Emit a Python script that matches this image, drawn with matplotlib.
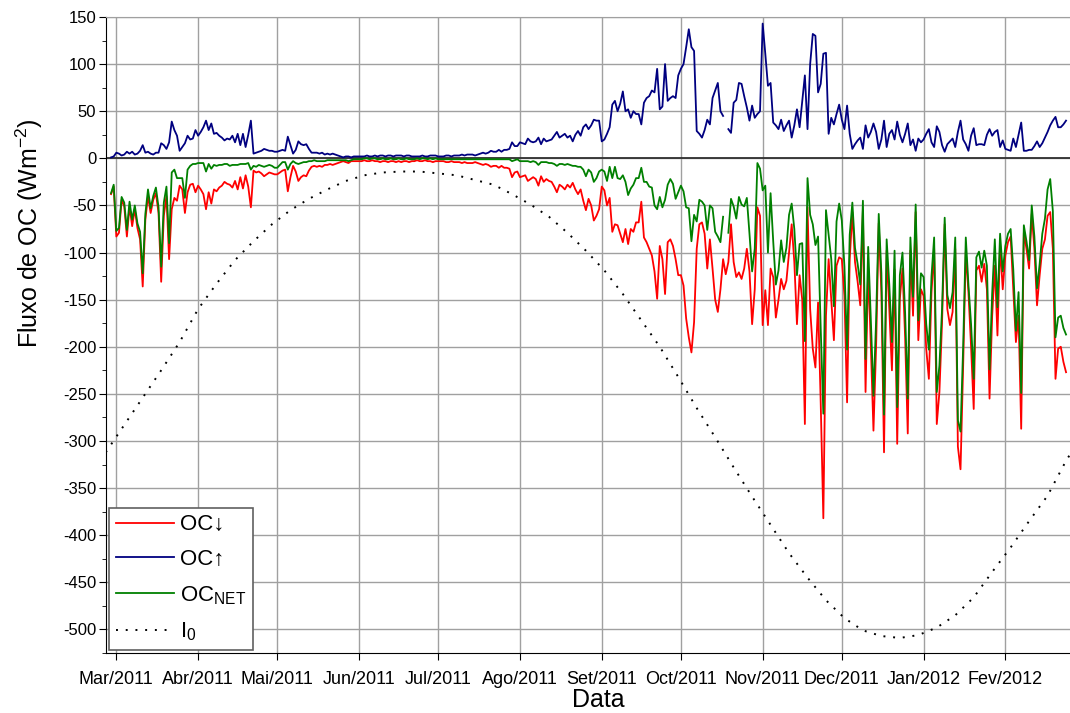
import numpy as np
import pandas as pd
import matplotlib
matplotlib.use("Agg")
import matplotlib.pyplot as plt
from matplotlib.ticker import MultipleLocator

plt.rcParams.update({
    'font.family': ['Liberation Sans', 'DejaVu Sans'],
    'mathtext.fontset': 'custom',
    'mathtext.rm': 'Liberation Sans',
    'mathtext.it': 'Liberation Sans:italic',
    'mathtext.bf': 'Liberation Sans:bold',
    'axes.unicode_minus': False,
})

# daily shortwave fluxes (W m-2), 27 Feb 2011 .. 24 Feb 2012
oc_down = [
    -38, -30,                                                            # Feb
    -83, -79, -44, -51, -83, -51, -72, -54, -74, -86, -136, -65, -40, -58, -44, -37,
    -58, -131, -61, -40, -107, -54, -42, -45, -29, -33, -58, -36, -28, -27, -36,  # Mar
    -29, -33, -38, -54, -36, -48, -33, -35, -31, -29, -25, -27, -28, -31, -24,
    -33, -20, -32, -18, -30, -52, -13, -15, -14, -16, -19, -17, -15, -16, -17,    # Apr
    -17, -15, -13, -12, -35, -20, -8, -14, -24, -20, -18, -19, -13, -9, -8, -9,
    -8, -9, -7, -7, -6, -7, -6, -5, -4, -3, -4, -5, -3, -3, -3,                   # May
    -3, -3, -2, -3, -3, -2, -3, -3, -4, -3, -3, -4, -3, -3, -4,
    -3, -4, -3, -3, -4, -3, -3, -2, -3, -3, -2, -3, -3, -4, -3,                   # Jun
    -3, -3, -3, -4, -4, -3, -4, -4, -4, -5, -4, -5, -5, -5, -4, -5,
    -6, -7, -6, -7, -9, -8, -8, -10, -8, -10, -10, -11, -20, -15, -14,            # Jul
    -20, -19, -18, -24, -22, -20, -22, -29, -19, -25, -22, -24, -25, -30, -36, -28,
    -30, -33, -28, -31, -26, -33, -38, -33, -45, -55, -43, -50, -66, -61, -54,    # Aug
    -30, -34, -50, -42, -78, -70, -71, -80, -89, -75, -91, -75, -78, -68, -68,
    -46, -84, -89, -96, -103, -120, -149, -93, -107, -144, -89, -86, -93, -107, -124,  # Set
    -124, -135, -170, -190, -206, -174, -96, -70, -68, -80, -117, -86, -117, -150, -163, -139,
    -107, -123, -110, -70, -110, -126, -121, -128, -117, -96, -120, -176, -139, -52, -61,  # Oct
    -177, -140, -177, -117, -126, -169, -150, -128, -139, -130, -100, -70, -110, -176, -124,
    -150, -282, -52, -160, -202, -222, -153, -259, -382, -167, -107, -150, -193, -114, -105,  # Nov
    -107, -146, -259, -107, -57, -110, -131, -156, -55, -248, -116, -199, -289, -200, -69, -142,
    -312, -98, -160, -225, -118, -303, -149, -117, -190, -292, -98, -167, -57, -193, -139,  # Dec
    -146, -202, -234, -142, -96, -282, -248, -174, -70, -160, -177, -163, -96, -306, -330, -220,
    -99, -142, -200, -266, -119, -114, -131, -112, -139, -255, -167, -114, -188, -92, -139,  # Jan
    -103, -89, -83, -139, -195, -167, -287, -79, -96, -117, -59, -96,
    -156, -124, -96, -86, -61, -57, -96, -234, -202, -200, -216, -227,            # Feb
]

oc_up = [
    1, 2,
    6, 5, 3, 4, 7, 5, 7, 4, 5, 8, 14, 6, 7, 5, 4, 6,
    6, 16, 14, 10, 17, 39, 30, 24, 8, 12, 16, 24, 20, 21, 30,
    24, 28, 33, 40, 30, 37, 26, 27, 24, 22, 19, 21, 20, 24, 17,
    26, 14, 26, 12, 25, 40, 5, 6, 7, 8, 10, 9, 8, 8, 7,
    7, 8, 9, 8, 23, 14, 5, 9, 18, 15, 14, 15, 10, 6, 6, 6,
    5, 6, 4, 5, 4, 5, 4, 3, 2, 1, 2, 2, 1, 2, 2,
    2, 2, 2, 3, 2, 2, 3, 2, 3, 3, 2, 3, 3, 2, 3,
    3, 3, 2, 3, 3, 2, 2, 2, 2, 3, 2, 2, 3, 3, 3,
    2, 2, 2, 3, 3, 2, 3, 3, 3, 4, 3, 4, 4, 4, 3, 4,
    5, 6, 5, 6, 8, 7, 7, 9, 7, 9, 9, 10, 17, 13, 13,
    17, 16, 15, 21, 18, 17, 18, 22, 15, 21, 18, 19, 20, 24, 28, 22,
    24, 26, 22, 24, 18, 25, 29, 24, 33, 36, 31, 35, 41, 40, 40,
    18, 20, 26, 33, 57, 61, 50, 58, 71, 50, 52, 43, 50, 47, 47,
    36, 59, 64, 66, 72, 70, 95, 52, 55, 100, 61, 64, 66, 64, 88,
    95, 100, 118, 137, 118, 114, 29, 26, 22, 30, 41, 36, 64, 72, 80, 50,
    45, np.nan, 31, 27, 59, 62, 80, 79, 66, 54, 40, 56, 43, 47, 50,
    143, 111, 77, 80, 38, 35, 31, 41, 29, 35, 40, 22, 35, 52, 33,
    60, 88, 31, 100, 132, 130, 70, 79, 111, 112, 26, 43, 36, 47, 57,
    41, 31, 56, 26, 10, 15, 19, 22, 10, 35, 22, 28, 37, 28, 10, 20,
    40, 12, 26, 30, 20, 39, 25, 17, 26, 37, 14, 20, 8, 21, 17,
    20, 26, 31, 17, 12, 34, 28, 14, 7, 15, 18, 21, 12, 28, 40, 20,
    15, 8, 24, 32, 14, 15, 15, 14, 25, 31, 24, 28, 30, 12, 19,
    10, 9, 8, 21, 12, 25, 38, 8, 8, 9, 9, 13,
    18, 12, 16, 22, 28, 35, 40, 44, 33, 33, 36, 40,
]

# top-of-atmosphere irradiance, weekly from 25 Feb 2011
i0_vals = [
    -312, -283, -254, -225, -195, -160, -133, -108, -88, -70,
    -55, -43, -33, -24, -18, -15, -14, -14, -16, -18,
    -23, -28, -38, -49, -62, -79, -98, -119, -144, -172,
    -200, -232, -265, -296, -328, -359, -389, -419, -445, -469,
    -488, -501, -507, -509, -506, -498, -485, -466, -439, -413,
    -385, -358, -321, -290,
]

month_labels = ['Mar/2011', 'Abr/2011', 'Mai/2011', 'Jun/2011', 'Jul/2011', 'Ago/2011',
                'Set/2011', 'Oct/2011', 'Nov/2011', 'Dec/2011', 'Jan/2012', 'Fev/2012']

days = pd.date_range('2011-02-27', periods=len(oc_down), freq='D')
down = np.array(oc_down, dtype=float)
up = np.array(oc_up, dtype=float)
net = down + up
i0_days = pd.date_range('2011-02-25', periods=len(i0_vals), freq='7D')

fig = plt.figure(figsize=(10.7, 7.13), dpi=100)
ax = fig.add_axes([106 / 1070, 1 - 653 / 713, 964 / 1070, 636 / 713])

ax.plot(days, down, color='#ff0000', lw=1.3, label='OC\u2193', zorder=3)
ax.plot(days, up, color='#000080', lw=1.3, label='OC\u2191', zorder=3)
ax.plot(days, net, color='#008000', lw=1.3, label=r'OC$_{\mathrm{NET}}$', zorder=4)
ax.plot(i0_days, i0_vals, color='black', lw=1.4, linestyle=(0, (1, 4)),
        label=r'I$_{\mathrm{0}}$', zorder=2)
ax.axhline(0, color='#303030', lw=1.3, zorder=1.5)

ax.set_xlim(pd.Timestamp('2011-02-25 02:00'), pd.Timestamp('2012-02-25 12:00'))
ax.set_ylim(-525, 150)
ax.yaxis.set_major_locator(MultipleLocator(50))
ax.yaxis.set_minor_locator(MultipleLocator(25))
ax.set_xticks(pd.date_range('2011-03-01', '2012-02-01', freq='MS'))
ax.set_xticklabels(month_labels, fontsize=13)
ax.tick_params(axis='y', which='major', labelsize=12, length=5, pad=2)
ax.tick_params(axis='y', which='minor', length=3)
ax.tick_params(axis='x', which='major', length=5, pad=8)

ax.set_axisbelow(True)
ax.grid(True, which='major', color='#a0a0a0', lw=1.0)
ax.spines['right'].set_visible(False)
ax.spines['top'].set_color('#a0a0a0')

fig.text(29 / 1070, 1 - 233 / 713, r'Fluxo de OC (Wm$^{-2}$)', rotation=90,
         ha='center', va='center', fontsize=18)
fig.text(598 / 1070, 1 - 700 / 713, 'Data', ha='center', va='center', fontsize=18)

leg = ax.legend(loc='lower left', bbox_to_anchor=(0, 0), borderaxespad=0.15,
                fontsize=16, handlelength=2.6, handletextpad=0.3, labelspacing=0.62,
                borderpad=0.3, fancybox=False, edgecolor='#606060', framealpha=1)
leg.get_frame().set_linewidth(1.2)
leg.set_zorder(5)

fig.savefig('out.png', dpi=100)
